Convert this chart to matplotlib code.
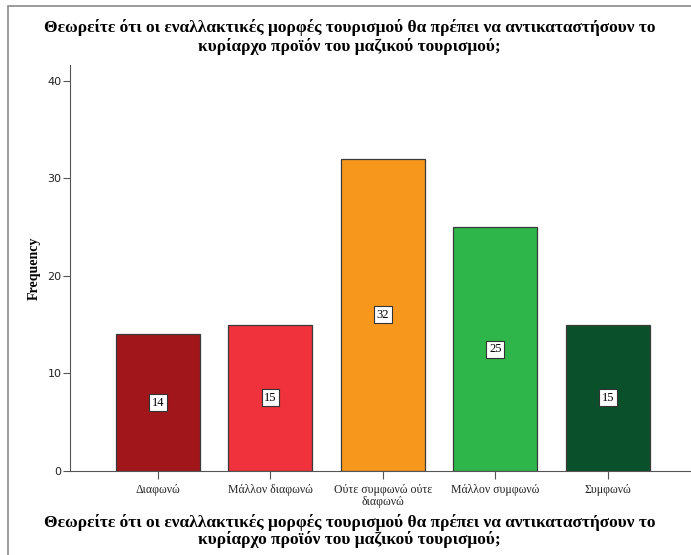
import matplotlib
matplotlib.use('Agg')
import matplotlib.pyplot as plt
from matplotlib.patches import Rectangle

# Chart data
categories = ['Διαφωνώ', 'Μάλλον διαφωνώ', 'Ούτε συμφωνώ ούτε\nδιαφωνώ',
              'Μάλλον συμφωνώ', 'Συμφωνώ']
counts = [14, 15, 32, 25, 15]
bar_colors = ['#a0161b', '#ef323b', '#f7981d', '#2fb64a', '#0a512b']
y_ticks = [0, 10, 20, 30, 40]
title_text = ('Θεωρείτε ότι οι εναλλακτικές μορφές τουρισμού θα πρέπει να αντικαταστήσουν το\n'
              'κυρίαρχο προϊόν του μαζικού τουρισμού;')

W, H = 691, 555
fig = plt.figure(figsize=(W / 100, H / 100), dpi=100)
serif = ['Liberation Serif', 'DejaVu Serif']

# outer frame (SPSS output border), open at right and bottom
fig.patches.append(Rectangle((8 / W, -0.2), 1.2, 1.2 - 6 / H, transform=fig.transFigure,
                             fill=False, edgecolor='#8a8a8a', linewidth=1.2))

ax = fig.add_axes([70 / W, (H - 471) / H, 1 - 70 / W, (471 - 65) / H])
x = range(len(counts))
bars = ax.bar(x, counts, width=0.75, color=bar_colors, edgecolor='#3a3a3a', linewidth=0.9)

for xi, c in zip(x, counts):
    ax.text(xi, c / 2, str(c), ha='center', va='center', fontsize=9, family=serif,
            bbox=dict(boxstyle='square,pad=0.2', facecolor='white', edgecolor='#333333', linewidth=0.8))

ax.set_xlim(-0.78, 4.74)
ax.set_ylim(0, 41.6)
ax.set_yticks(y_ticks)
ax.set_xticks(list(x))
ax.set_xticklabels(categories, fontsize=8.5, family=serif, color='#222222', linespacing=1.0)
ax.tick_params(axis='y', labelsize=8, length=5, color='#555555', labelcolor='#222222', pad=1)
ax.tick_params(axis='x', length=6, color='#555555', pad=3)
for s in ['top', 'right']:
    ax.spines[s].set_visible(False)
ax.spines['left'].set_color('#555555')
ax.spines['bottom'].set_color('#555555')

ax.set_ylabel('Frequency', fontsize=10, fontweight='bold', family=serif, labelpad=5)

fig.text(0.5 + 8 / W / 2, 1 - 37 / H, title_text, ha='center', va='center',
         fontsize=12.5, fontweight='bold', family=serif, linespacing=1.1)
fig.text(0.5 + 8 / W / 2, 1 - 531 / H, title_text, ha='center', va='center',
         fontsize=12.5, fontweight='bold', family=serif, linespacing=1.05)

fig.savefig('out.png', dpi=100, facecolor='white')
